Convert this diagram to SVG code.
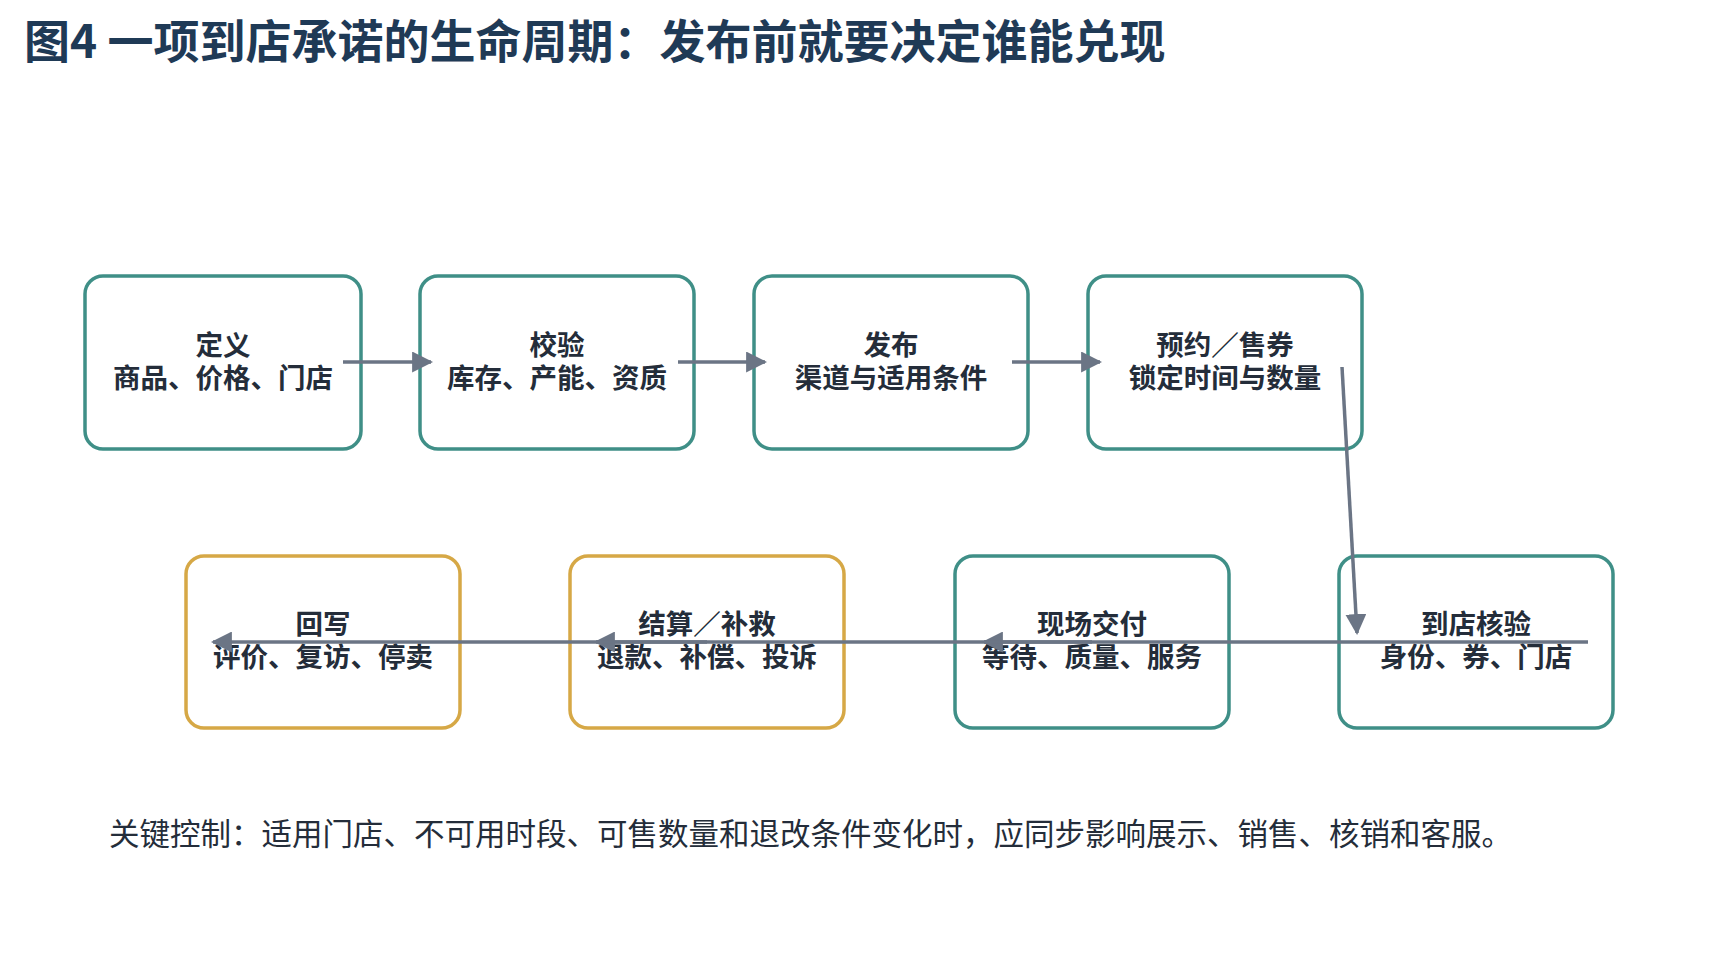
<svg xmlns="http://www.w3.org/2000/svg" width="1714" height="969" viewBox="0 0 1714 969">
<style>
.t{font-family:"Noto Sans CJK SC","Liberation Sans",sans-serif;fill:#242d3a}
.n{font-size:27.5px;font-weight:bold;text-anchor:middle}
.b{fill:#fff;stroke-width:3.5}
.g{stroke:#3f8f87}.y{stroke:#d6a846}
.c{stroke:#6b7585;stroke-width:3.5;fill:none;marker-end:url(#a)}
</style>
<defs><marker id="a" viewBox="0 0 10 10" refX="9" refY="5" markerWidth="6" markerHeight="6" orient="auto"><path d="M0,0L10,5L0,10z" fill="#6b7585"/></marker></defs>
<rect width="1714" height="969" fill="#fff"/>
<text class="t" x="24" y="58" font-size="46" font-weight="bold" style="fill:#1f3a56">图4  一项到店承诺的生命周期：发布前就要决定谁能兑现</text>
<g id="n1"><rect class="b g" x="85" y="276" width="276" height="173" rx="18"/><text class="t n" x="223" y="355">定义</text><text class="t n" x="223" y="388">商品、价格、门店</text></g>
<g id="n2"><rect class="b g" x="420" y="276" width="274" height="173" rx="18"/><text class="t n" x="557" y="355">校验</text><text class="t n" x="557" y="388">库存、产能、资质</text></g>
<g id="n3"><rect class="b g" x="754" y="276" width="274" height="173" rx="18"/><text class="t n" x="891" y="355">发布</text><text class="t n" x="891" y="388">渠道与适用条件</text></g>
<g id="n4"><rect class="b g" x="1088" y="276" width="274" height="173" rx="18"/><text class="t n" x="1225" y="355">预约／售券</text><text class="t n" x="1225" y="388">锁定时间与数量</text></g>
<g id="n5"><rect class="b g" x="1339" y="556" width="274" height="172" rx="18"/><text class="t n" x="1476" y="634">到店核验</text><text class="t n" x="1476" y="667">身份、券、门店</text></g>
<g id="n6"><rect class="b g" x="955" y="556" width="274" height="172" rx="18"/><text class="t n" x="1092" y="634">现场交付</text><text class="t n" x="1092" y="667">等待、质量、服务</text></g>
<g id="n7"><rect class="b y" x="570" y="556" width="274" height="172" rx="18"/><text class="t n" x="707" y="634">结算／补救</text><text class="t n" x="707" y="667">退款、补偿、投诉</text></g>
<g id="n8"><rect class="b y" x="186" y="556" width="274" height="172" rx="18"/><text class="t n" x="323" y="634">回写</text><text class="t n" x="323" y="667">评价、复访、停卖</text></g>
<g id="connectors">
<path class="c" d="M343,362H431"/>
<path class="c" d="M678,362H765"/>
<path class="c" d="M1012,362H1100"/>
<path class="c" d="M1342,367L1357,633"/>
<path class="c" d="M1588,642H984"/>
<path class="c" d="M1092,642H596"/>
<path class="c" d="M707,642H213"/>
</g>
<text class="t" x="109" y="845" font-size="30.5">关键控制：适用门店、不可用时段、可售数量和退改条件变化时，应同步影响展示、销售、核销和客服。</text>
</svg>
